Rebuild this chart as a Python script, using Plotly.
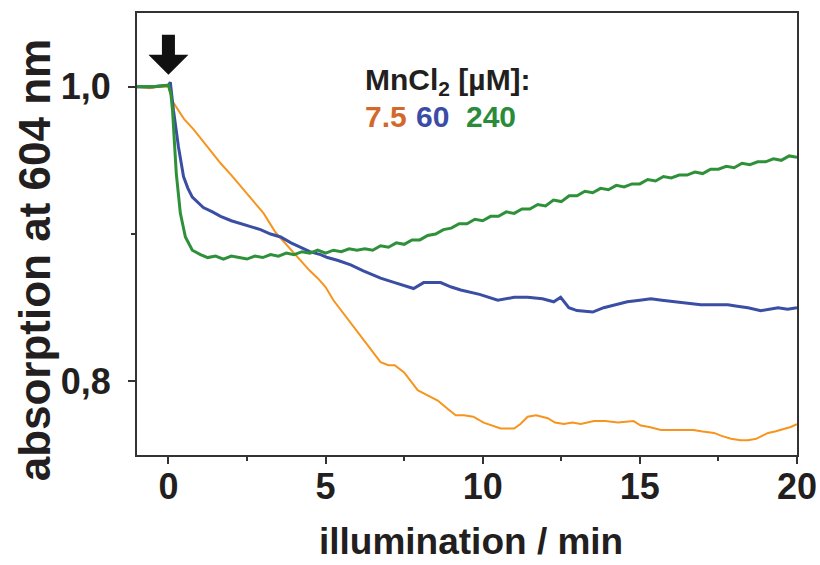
import plotly.graph_objects as go

# Absorption at 604 nm during illumination for three MnCl2 concentrations
t_75 = [-1.0, -0.6, -0.3, 0.0, 0.13, 0.5, 0.8, 1.2, 1.66, 2.0, 2.39, 2.7, 3.03, 3.41, 3.7,
        3.98, 4.2, 4.5, 4.75, 5.0, 5.25, 5.6, 6.0, 6.4, 6.75, 7.0, 7.2, 7.5, 7.93, 8.2,
        8.57, 8.9, 9.14, 9.4, 9.7, 10.03, 10.3, 10.57, 11.0, 11.2, 11.43, 11.7, 12.07, 12.3,
        12.58, 12.85, 13.12, 13.54, 13.9, 14.3, 14.8, 15.03, 15.3, 15.67, 16.0, 16.4, 16.7,
        17.0, 17.36, 17.6, 17.9, 18.2, 18.44, 18.7, 19.08, 19.3, 19.59, 19.8, 20.0]
a_75 = [1.000, 0.999, 1.000, 1.000, 0.990, 0.978, 0.971, 0.960, 0.948, 0.940, 0.930, 0.922,
        0.914, 0.901, 0.894, 0.887, 0.882, 0.875, 0.870, 0.864, 0.855, 0.845, 0.834, 0.823,
        0.813, 0.811, 0.811, 0.806, 0.794, 0.791, 0.787, 0.781, 0.777, 0.777, 0.776, 0.772,
        0.770, 0.768, 0.768, 0.771, 0.776, 0.777, 0.775, 0.772, 0.771, 0.772, 0.771, 0.773,
        0.773, 0.772, 0.773, 0.770, 0.769, 0.767, 0.767, 0.767, 0.767, 0.766, 0.765, 0.763,
        0.761, 0.760, 0.760, 0.761, 0.765, 0.766, 0.768, 0.769, 0.771]

t_60 = [-1.0, -0.5, 0.0, 0.06, 0.16, 0.32, 0.48, 0.62, 0.76, 0.95, 1.11, 1.4, 1.66, 2.0,
        2.29, 2.6, 2.93, 3.25, 3.57, 3.9, 4.2, 4.5, 4.84, 5.06, 5.4, 5.8, 6.2, 6.75, 7.2,
        7.8, 8.12, 8.66, 9.0, 9.3, 9.9, 10.48, 11.0, 11.43, 11.9, 12.26, 12.48, 12.74, 13.0,
        13.5, 13.85, 14.2, 14.6, 15.0, 15.35, 15.7, 16.1, 16.5, 16.94, 17.4, 17.8, 18.1,
        18.44, 18.85, 19.1, 19.4, 19.7, 20.0]
a_60 = [1.000, 1.000, 1.001, 1.003, 0.984, 0.959, 0.939, 0.931, 0.925, 0.921, 0.918, 0.915,
        0.912, 0.909, 0.907, 0.905, 0.903, 0.900, 0.898, 0.894, 0.891, 0.888, 0.886, 0.884,
        0.882, 0.879, 0.875, 0.870, 0.867, 0.863, 0.867, 0.867, 0.864, 0.862, 0.859, 0.855,
        0.857, 0.857, 0.856, 0.854, 0.857, 0.850, 0.848, 0.847, 0.850, 0.852, 0.854, 0.855,
        0.856, 0.855, 0.854, 0.853, 0.852, 0.852, 0.852, 0.851, 0.850, 0.848, 0.849, 0.850,
        0.849, 0.850]

t_240 = [-1.0, -0.5, 0.0, 0.08, 0.13, 0.16, 0.25, 0.38, 0.54, 0.76, 1.02,
         1.25, 1.5, 1.75, 2.0, 2.25, 2.5, 2.75, 3.0, 3.25, 3.5, 3.75, 4.0, 4.25, 4.5, 4.75,
         5.0, 5.25, 5.5, 5.75, 6.0, 6.25, 6.5, 6.75, 7.0, 7.25, 7.5, 7.75, 8.0, 8.25, 8.5,
         8.75, 9.0, 9.25, 9.5, 9.75, 10.0, 10.25, 10.5, 10.75, 11.0, 11.25, 11.5, 11.75,
         12.0, 12.25, 12.5, 12.75, 13.0, 13.25, 13.5, 13.75, 14.0, 14.25, 14.5, 14.75, 15.0,
         15.25, 15.5, 15.75, 16.0, 16.25, 16.5, 16.75, 17.0, 17.25, 17.5, 17.75, 18.0, 18.25,
         18.5, 18.75, 19.0, 19.25, 19.5, 19.75, 20.0]
a_240 = [1.000, 1.000, 1.001, 0.995, 0.984, 0.971, 0.941, 0.914, 0.898, 0.889, 0.886,
         0.884, 0.885, 0.883, 0.885, 0.884, 0.883, 0.885, 0.884, 0.886, 0.885, 0.887, 0.886,
         0.888, 0.887, 0.889, 0.887, 0.889, 0.888, 0.890, 0.889, 0.890, 0.889, 0.892, 0.891,
         0.894, 0.893, 0.896, 0.896, 0.899, 0.900, 0.903, 0.904, 0.907, 0.907, 0.910, 0.909,
         0.912, 0.912, 0.915, 0.914, 0.917, 0.917, 0.920, 0.919, 0.923, 0.922, 0.926, 0.926,
         0.929, 0.928, 0.931, 0.930, 0.933, 0.932, 0.934, 0.934, 0.937, 0.936, 0.939, 0.938,
         0.940, 0.940, 0.942, 0.941, 0.944, 0.944, 0.946, 0.945, 0.948, 0.947, 0.949, 0.949,
         0.951, 0.950, 0.953, 0.952]

x_ticks = [0, 5, 10, 15, 20]
y_ticks = [0.8, 1.0]
y_tick_labels = ["0,8", "1,0"]
legend_values = ["7.5", "60", "240"]

FONT = "Liberation Sans, Arial, Helvetica, sans-serif"
INK = "#231f20"
AXIS = "#333333"
C_ORANGE = "#f7941d"
C_BLUE = "#3a4ea3"
C_GREEN = "#2e9139"
TXT_COLORS = ["#d2692a", "#3b4ca6", "#2a8c3a"]

fig = go.Figure()
fig.add_trace(go.Scatter(x=t_75, y=a_75, mode="lines",
                         line=dict(color=C_ORANGE, width=2), showlegend=False))
fig.add_trace(go.Scatter(x=t_60, y=a_60, mode="lines",
                         line=dict(color=C_BLUE, width=3), showlegend=False))
fig.add_trace(go.Scatter(x=t_240, y=a_240, mode="lines",
                         line=dict(color=C_GREEN, width=3), showlegend=False))

axis_common = dict(
    showline=True, linecolor=AXIS, linewidth=2, mirror=True,
    ticks="outside", ticklen=7, tickwidth=2, tickcolor=AXIS,
    showgrid=False, zeroline=False, automargin=False,
    tickfont=dict(family=FONT, size=36, color=INK, weight="bold"),
)

fig.update_xaxes(range=[-1.0, 20.0], tickvals=x_ticks, ticklabelstandoff=-8,
                 minor=dict(dtick=2.5, ticks="outside", ticklen=4, tickwidth=2,
                            tickcolor=AXIS),
                 **axis_common)
fig.update_yaxes(range=[0.75, 1.05], tickvals=y_ticks, ticktext=y_tick_labels,
                 ticklabelstandoff=10,
                 minor=dict(dtick=0.1, tick0=0.8, ticks="outside", ticklen=4, tickwidth=2,
                            tickcolor=AXIS),
                 **axis_common)

# arrow marking the start of illumination, anchored at t = 0 just above the baseline
fig.add_shape(type="path", xref="x", yref="y", xsizemode="pixel", ysizemode="pixel",
              xanchor=0, yanchor=1.0,
              path="M -6.5,52 L 6.5,52 L 6.5,32 L 20,32 L 0,12 L -20,32 L -6.5,32 Z",
              fillcolor="#111111", line=dict(width=0))

fig.add_annotation(x=6.2, y=1.0035, xref="x", yref="y", xanchor="left", yanchor="middle",
                   text="MnCl<sub>2</sub> [µM]:", showarrow=False,
                   font=dict(family=FONT, size=30, color=INK, weight="bold"))
for val, xpos, col in zip(legend_values, [6.2, 7.8, 9.4], TXT_COLORS):
    fig.add_annotation(x=xpos, y=0.9795, xref="x", yref="y", xanchor="left", yanchor="middle",
                       text=val, showarrow=False,
                       font=dict(family=FONT, size=30, color=col, weight="bold"))

fig.add_annotation(x=0.506, y=-0.196, xref="paper", yref="paper", xanchor="center",
                   yanchor="middle", text="illumination / min", showarrow=False,
                   font=dict(family=FONT, size=37, color=INK, weight="bold"))
fig.add_annotation(x=-0.155, y=0.442, xref="paper", yref="paper", xanchor="center",
                   yanchor="middle", text="absorption at 604 nm", textangle=-90,
                   showarrow=False,
                   font=dict(family=FONT, size=44, color=INK, weight="bold"))

fig.update_layout(
    width=820, height=565, template="none",
    margin=dict(l=137, r=23, t=13, b=110),
    paper_bgcolor="white", plot_bgcolor="white",
)

fig.write_html("out.html")
